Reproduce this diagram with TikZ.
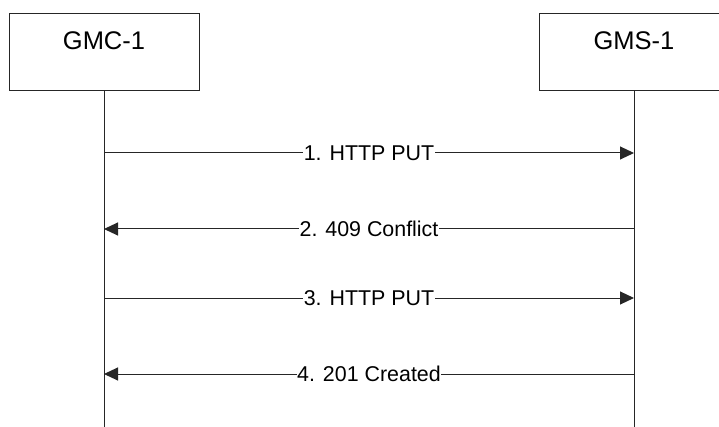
\documentclass[tikz,border=0pt]{standalone}
\usepackage{fontspec}
\setmainfont{Liberation Sans}
\usetikzlibrary{arrows.meta}
\tikzset{
  entitybox/.style={draw=black!85, line width=1pt, minimum width=190pt, minimum height=77pt, inner sep=0pt},
  entitytext/.style={font=\fontsize{25.5}{30}\selectfont, inner sep=0pt},
  lifeline/.style={draw=black!85, line width=1pt},
  msg/.style={draw=black!85, line width=1pt, -{Triangle[length=14pt,width=13pt]}},
  msglabel/.style={font=\fontsize{21.4}{25}\selectfont, fill=white, inner xsep=0.5pt, inner ysep=1pt}
}
\begin{document}
\begin{tikzpicture}[x=1pt,y=-1pt]
\useasboundingbox (0,0) rectangle (719,427);
\clip (0,0) rectangle (719,427);
\fill[white] (0,0) rectangle (719,427);
% entities
\node[entitybox] (gmc) at (104,52.5) {};
\node[entitytext] (gmct) at (104,41) {GMC-1};
\node[entitybox] (gms) at (634,52.5) {};
\node[entitytext] (gmst) at (634,41) {GMS-1};
% lifeline ends
\coordinate (gmcend) at (104,427);
\coordinate (gmsend) at (634,427);
\draw[lifeline] (gmc.south) -- (gmcend);
\draw[lifeline] (gms.south) -- (gmsend);
% message points
\coordinate (l1) at (104,153); \coordinate (r1) at (634,153);
\coordinate (l2) at (104,229); \coordinate (r2) at (634,229);
\coordinate (l3) at (104,298); \coordinate (r3) at (634,298);
\coordinate (l4) at (104,374); \coordinate (r4) at (634,374);
\draw[msg] (l1) -- (r1) node[midway, msglabel] (m1) {1. HTTP PUT};
\draw[msg] (r2) -- (l2) node[midway, msglabel] (m2) {2. 409 Conflict};
\draw[msg] (l3) -- (r3) node[midway, msglabel] (m3) {3. HTTP PUT};
\draw[msg] (r4) -- (l4) node[midway, msglabel] (m4) {4. 201 Created};
\end{tikzpicture}
\end{document}
